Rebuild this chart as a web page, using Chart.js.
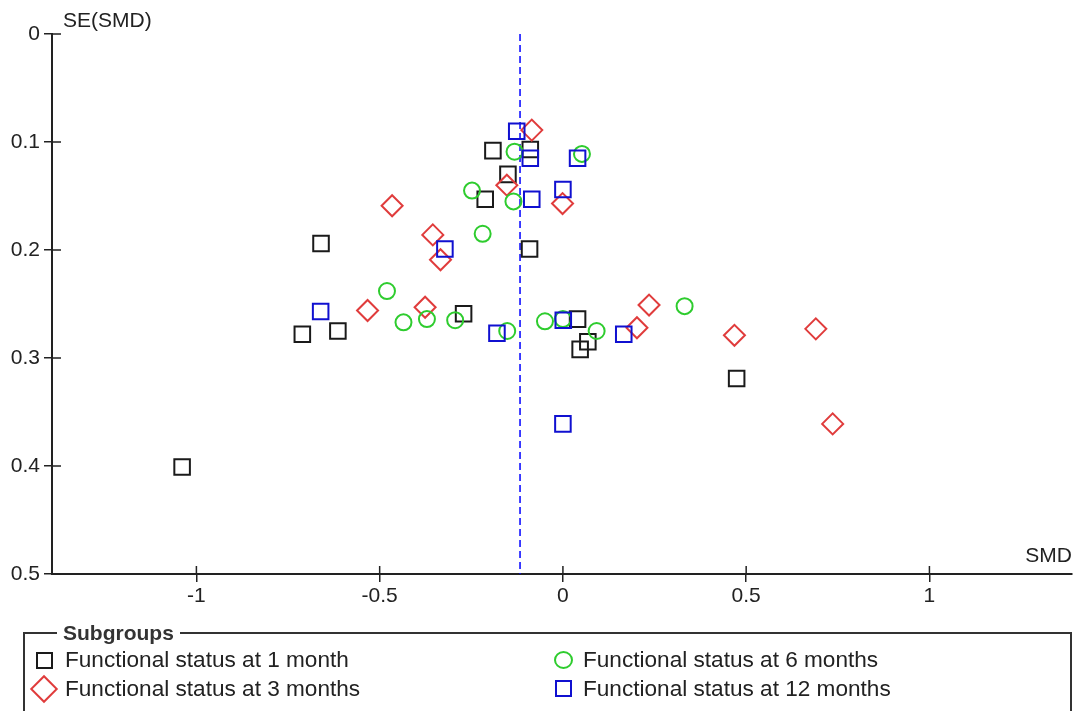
<!DOCTYPE html>
<html>
<head>
<meta charset="utf-8">
<title>Funnel plot</title>
<script src="https://cdn.jsdelivr.net/npm/chart.js@4.4.0/dist/chart.umd.min.js"></script>
<style>
    body { margin: 0; background: #fff; }
    #wrap { position: relative; width: 1076px; height: 711px; overflow: hidden; font-family: "Liberation Sans", Arial, sans-serif; }
    #funnel { position: absolute; left: 0; top: 0; background: #fff; }
    .box { position: absolute; left: 23px; top: 632px; width: 1045px; height: 120px; border: 2px solid #333; border-bottom: none; }
    .box-title { position: absolute; left: 57px; top: 620px; padding: 0 6px; background: #fff; font-weight: bold; font-size: 21px; line-height: 25px; color: #333; }
    .item { position: absolute; font-size: 22.6px; line-height: 26px; color: #222; white-space: nowrap; }
    .mk { position: absolute; box-sizing: border-box; }
</style>
</head>
<body>
<div id="wrap">
    <canvas id="funnel" width="1076" height="711"></canvas>
    <div class="box"></div>
    <div class="box-title">Subgroups</div>
    <div class="mk" style="left:36px; top:652px; width:17px; height:17px; border:2px solid #1a1a1a;"></div>
    <div class="item" style="left:65px; top:647px;">Functional status at 1 month</div>
    <div class="mk" style="left:34px; top:679px; width:20px; height:20px; border:2px solid #e03c3c; transform:rotate(45deg);"></div>
    <div class="item" style="left:65px; top:676px;">Functional status at 3 months</div>
    <div class="mk" style="left:554px; top:651px; width:19px; height:18px; border:2px solid #2ecc2e; border-radius:50%;"></div>
    <div class="item" style="left:583px; top:647px;">Functional status at 6 months</div>
    <div class="mk" style="left:555px; top:680px; width:17px; height:17px; border:2px solid #1010d0;"></div>
    <div class="item" style="left:583px; top:676px;">Functional status at 12 months</div>
</div>
<script>
// values (SMD on x, SE(SMD) on y)
const month1Smd = [-1.039, -0.660, -0.711, -0.614, -0.271, -0.191, -0.150, -0.212, -0.089, -0.091, 0.040, 0.068, 0.047, 0.474];
const month1Se  = [0.401, 0.194, 0.278, 0.275, 0.259, 0.108, 0.130, 0.153, 0.107, 0.199, 0.264, 0.285, 0.292, 0.319];

const month3Smd = [-0.085, -0.466, -0.153, -0.355, -0.334, -0.001, -0.533, -0.376, 0.235, 0.202, 0.468, 0.690, 0.736];
const month3Se  = [0.089, 0.159, 0.140, 0.186, 0.209, 0.157, 0.256, 0.253, 0.251, 0.272, 0.279, 0.273, 0.361];

const month6Smd = [-0.132, 0.052, -0.248, -0.135, -0.219, -0.480, -0.435, -0.371, -0.294, -0.152, -0.049, 0.000, 0.092, 0.332];
const month6Se  = [0.109, 0.111, 0.145, 0.155, 0.185, 0.238, 0.267, 0.264, 0.265, 0.275, 0.266, 0.264, 0.275, 0.252];

const month12Smd = [-0.126, -0.089, 0.040, 0.000, -0.085, -0.322, -0.661, -0.180, 0.001, 0.166, 0.000];
const month12Se  = [0.090, 0.115, 0.115, 0.144, 0.153, 0.199, 0.257, 0.277, 0.265, 0.278, 0.361];

const pooledSmd = -0.117;
const xTicks = [-1, -0.5, 0, 0.5, 1];
const yTicks = [0, 0.1, 0.2, 0.3, 0.4, 0.5];

const FONT = '"Liberation Sans", Arial, sans-serif';

const toPoints = function (smd, se) {
    return smd.map(function (v, i) { return { x: v, y: se[i] }; });
};

const marker = function (label, smd, se, style, radius, color, order) {
    return {
        label: label,
        data: toPoints(smd, se),
        pointStyle: style,
        pointRadius: radius,
        pointHoverRadius: radius,
        pointBorderWidth: 2,
        borderColor: color,
        backgroundColor: 'rgba(0,0,0,0)',
        order: order
    };
};

// inner half of the tick marks plus the two axis captions
const axisExtras = {
    id: 'axisExtras',
    afterDraw: function (chart) {
        var ctx = chart.ctx, a = chart.chartArea;
        var xs = chart.scales.x, ys = chart.scales.y;
        ctx.save();
        ctx.strokeStyle = '#222';
        ctx.lineWidth = 1.5;
        ctx.beginPath();
        xs.ticks.forEach(function (t) {
            var px = xs.getPixelForValue(t.value);
            ctx.moveTo(px, a.bottom);
            ctx.lineTo(px, a.bottom - 8);
        });
        ys.ticks.forEach(function (t) {
            var py = ys.getPixelForValue(t.value);
            ctx.moveTo(a.left, py);
            ctx.lineTo(a.left + 9, py);
        });
        ctx.stroke();
        ctx.fillStyle = '#222';
        ctx.font = '21px ' + FONT;
        ctx.textBaseline = 'middle';
        ctx.textAlign = 'left';
        ctx.fillText('SE(SMD)', a.left + 11, a.top - 13);
        ctx.textAlign = 'right';
        ctx.fillText('SMD', a.right, a.bottom - 18);
        ctx.restore();
    }
};

new Chart(document.getElementById('funnel').getContext('2d'), {
    type: 'scatter',
    data: {
        datasets: [
            {
                type: 'line',
                label: 'Pooled',
                data: [{ x: pooledSmd, y: 0 }, { x: pooledSmd, y: 0.5 }],
                borderColor: '#0000ff',
                borderWidth: 1.5,
                borderDash: [7, 4],
                pointRadius: 0,
                fill: false,
                order: 5
            },
            marker('Functional status at 1 month', month1Smd, month1Se, 'rect', 11, '#1a1a1a', 4),
            marker('Functional status at 3 months', month3Smd, month3Se, 'rectRot', 10.5, '#e03c3c', 3),
            marker('Functional status at 6 months', month6Smd, month6Se, 'circle', 8, '#2ecc2e', 2),
            marker('Functional status at 12 months', month12Smd, month12Se, 'rect', 11, '#1010d0', 1)
        ]
    },
    options: {
        responsive: false,
        animation: false,
        layout: { autoPadding: false, padding: { top: 34, right: 4, bottom: 97, left: 0 } },
        plugins: {
            legend: { display: false },
            tooltip: { enabled: false }
        },
        scales: {
            x: {
                type: 'linear',
                position: 'bottom',
                min: -1.394,
                max: 1.389,
                afterBuildTicks: function (s) { s.ticks = xTicks.map(function (v) { return { value: v }; }); },
                afterFit: function (s) {
                    s.height = 40;
                    s.paddingLeft = 0;
                    s.paddingRight = 0;
                },
                grid: { drawOnChartArea: false, tickLength: 8, color: '#222', lineWidth: 1.5 },
                border: { color: '#222', width: 2 },
                ticks: {
                    color: '#222',
                    padding: 2,
                    maxRotation: 0,
                    font: { family: FONT, size: 21 },
                    callback: function (v) { return String(v); }
                }
            },
            y: {
                type: 'linear',
                reverse: true,
                min: 0,
                max: 0.5,
                afterBuildTicks: function (s) { s.ticks = yTicks.map(function (v) { return { value: v }; }); },
                afterFit: function (s) { s.width = 52; },
                grid: { drawOnChartArea: false, tickLength: 8, color: '#222', lineWidth: 1.5 },
                border: { color: '#222', width: 2 },
                ticks: {
                    color: '#222',
                    padding: 4,
                    font: { family: FONT, size: 21 },
                    callback: function (v) { return String(v); }
                }
            }
        }
    },
    plugins: [axisExtras]
});
</script>
</body>
</html>
